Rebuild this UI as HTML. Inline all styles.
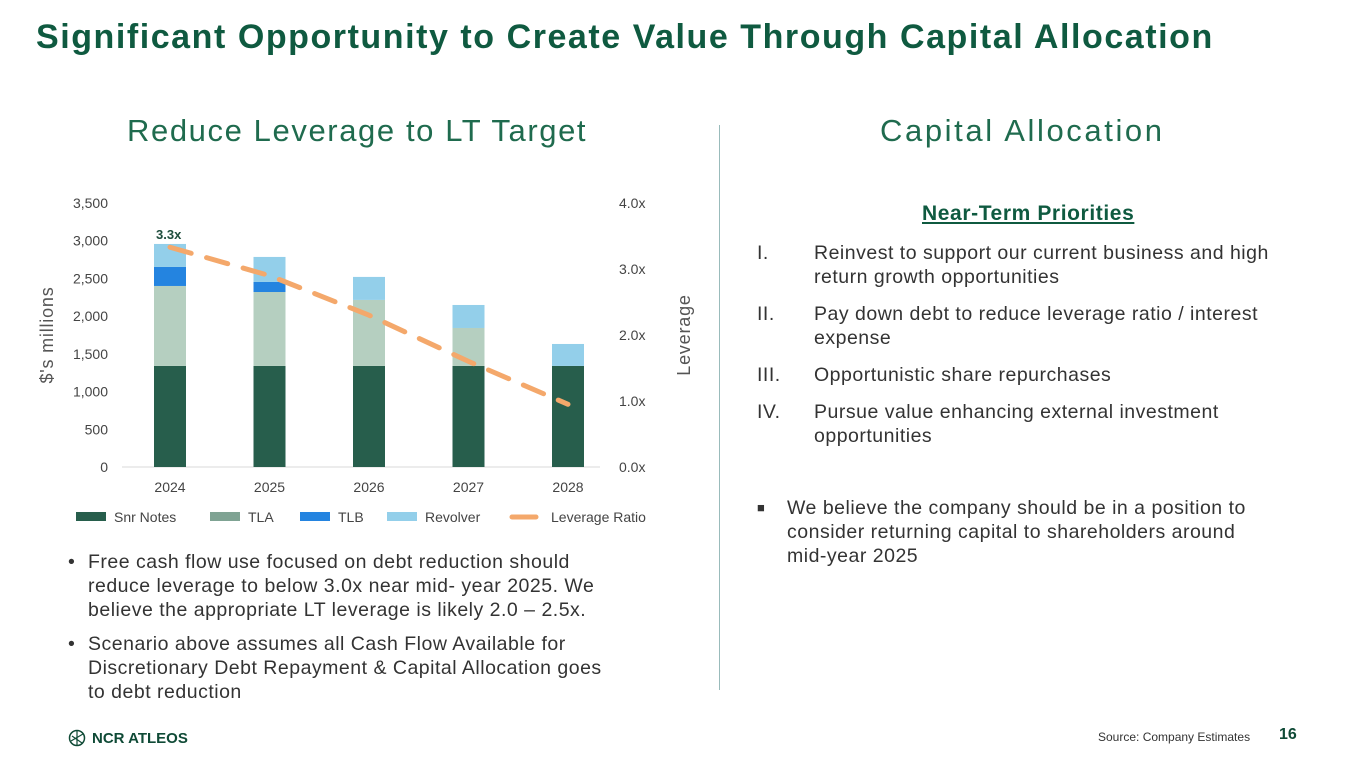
<!DOCTYPE html>
<html><head><meta charset="utf-8"><style>
body{margin:0;width:1365px;height:768px;background:#fff;font-family:"Liberation Sans",sans-serif;position:relative;overflow:hidden;color:#222}
.abs{position:absolute}
h1{position:absolute;left:36px;top:18px;margin:0;font-size:34px;font-weight:bold;color:#0f5a40;letter-spacing:1.55px}
.sub{font-size:31px;color:#1f6b4e;letter-spacing:1.6px}
.txt{font-size:19.5px;line-height:24px;color:#333;letter-spacing:0.5px}
.row{display:flex}.row span:first-child{flex-shrink:0}
</style></head><body>
<h1>Significant Opportunity to Create Value Through Capital Allocation</h1>
<div class="abs sub" style="left:127px;top:113px">Reduce Leverage to LT Target</div>
<div class="abs sub" style="left:880px;top:113px;letter-spacing:2.6px">Capital Allocation</div>
<div class="abs" style="left:719px;top:125px;width:1px;height:565px;background:#9bb"></div>
<svg class="abs" style="left:0;top:0" width="700" height="540" id="chart"></svg>
<div class="abs txt" style="left:68px;top:550px;width:600px">
<div class="row" style="width:555px"><span style="width:20px">•</span><span>Free cash flow use focused on debt reduction should reduce leverage to below 3.0x near mid- year 2025. We believe the appropriate LT leverage is likely 2.0 – 2.5x.</span></div>
<div class="row" style="margin-top:10px;width:540px"><span style="width:20px">•</span><span>Scenario above assumes all Cash Flow Available for Discretionary Debt Repayment &amp; Capital Allocation goes to debt reduction</span></div>
</div>
<div class="abs" style="left:922px;top:202px;font-size:21px;font-weight:bold;color:#0f5a40;text-decoration:underline;letter-spacing:0.6px">Near-Term Priorities</div>
<div class="abs txt" style="left:757px;top:241px;width:570px">
<div class="row"><span style="width:57px">I.</span><span>Reinvest to support our current business and high return growth opportunities</span></div>
<div class="row" style="margin-top:13px"><span style="width:57px">II.</span><span>Pay down debt to reduce leverage ratio / interest expense</span></div>
<div class="row" style="margin-top:13px"><span style="width:57px">III.</span><span>Opportunistic share repurchases</span></div>
<div class="row" style="margin-top:13px"><span style="width:57px">IV.</span><span>Pursue value enhancing external investment opportunities</span></div>
<div class="row" style="margin-top:48px;width:545px"><span style="width:30px;font-size:13px">■</span><span>We believe the company should be in a position to consider returning capital to shareholders around mid&#8209;year 2025</span></div>
</div>
<div class="abs" style="left:68px;top:729px;display:flex;align-items:center;gap:6px;font-weight:bold;font-size:15px;color:#0f4a36">
<svg width="18" height="18"><circle cx="9" cy="9" r="7.5" fill="none" stroke="#0f4a36" stroke-width="1.5"/><path d="M3 12 L15 5 M4 7 L14 14 M9 1.5 V16.5" stroke="#0f4a36" stroke-width="1.2"/></svg>NCR ATLEOS</div>
<div class="abs" style="left:1098px;top:730px;font-size:12px;color:#333">Source:  Company Estimates</div>
<div class="abs" style="left:1279px;top:726px;font-size:16px;font-weight:bold;color:#0f4a36">16</div>
<script>
const years=["2024","2025","2026","2027","2028"];
const snrNotes=[1340,1340,1340,1340,1340];
const tla=[1060,980,875,503,0];
const tlb=[252,133,0,0,0];
const revolver=[305,332,305,305,291];
const leverage=[3.33,2.9,2.3,1.6,0.95];
const yTicks=[0,500,1000,1500,2000,2500,3000,3500];
const y2Ticks=[0,1,2,3,4];
const svg=document.getElementById('chart');const NS='http://www.w3.org/2000/svg';
const y0=467,yTop=203,x0=120,step=99.5,bw=32;
const ys=v=>y0-(y0-yTop)*v/3500, ys2=v=>y0-(y0-yTop)*v/4, xc=i=>x0+50+i*step;
function el(t,a,txt){const e=document.createElementNS(NS,t);for(const k in a)e.setAttribute(k,a[k]);if(txt!==undefined)e.textContent=txt;svg.appendChild(e);return e;}
yTicks.forEach(t=>{const e=el('text',{x:108,y:ys(t)+5,'text-anchor':'end','font-size':14,fill:'#444'},t.toLocaleString('en-US'));

});
y2Ticks.forEach(t=>{const e=el('text',{x:619,y:ys2(t)+5,'font-size':14,fill:'#444'},t.toFixed(1)+'x');

});
const ax=el('line',{x1:122,x2:600,y1:y0,y2:y0,stroke:'#d9d9d9'});


const series=[[snrNotes,'#275e4c','snr-notes'],[tla,'#b5cfc0','tla'],[tlb,'#2484e0','tlb'],[revolver,'#93cfea','revolver']];
years.forEach((y,i)=>{let acc=0;series.forEach(([d,c,n])=>{if(d[i]>0){const r=el('rect',{x:xc(i)-bw/2,y:ys(acc+d[i]),width:bw,height:ys(acc)-ys(acc+d[i]),fill:c});

}acc+=d[i];});
const t=el('text',{x:xc(i),y:492,'text-anchor':'middle','font-size':14,fill:'#444'},y);

});
const pts=leverage.map((v,i)=>xc(i)+','+ys2(v)).join(' ');
const pl=el('polyline',{points:pts,fill:'none',stroke:'#f4a86b','stroke-width':5,'stroke-dasharray':'22 16','stroke-linecap':'round'});


const lb=el('text',{x:xc(0)-14,y:ys2(leverage[0])-8,'font-size':13,'font-weight':'bold',fill:'#1f4d3d'},leverage[0].toFixed(1)+'x');


const yt=el('text',{transform:'translate(53,335) rotate(-90)','text-anchor':'middle','font-size':18,fill:'#555','letter-spacing':'0.8'},"$'s millions");


const yt2=el('text',{transform:'translate(690,335) rotate(-90)','text-anchor':'middle','font-size':18,fill:'#555','letter-spacing':'0.8'},'Leverage');


const leg=[['Snr Notes','#275e4c',76],['TLA','#7fa393',210],['TLB','#2484e0',300],['Revolver','#93cfea',387]];
leg.forEach(([n,c,x])=>{const r=el('rect',{x:x,y:512,width:30,height:9,fill:c});


const t=el('text',{x:x+38,y:522,'font-size':14,fill:'#444'},n);

});
const ll=el('line',{x1:512,x2:536,y1:517,y2:517,stroke:'#f4a86b','stroke-width':5,'stroke-linecap':'round'});


const lt=el('text',{x:551,y:522,'font-size':14,fill:'#444'},'Leverage Ratio');


</script>
</body></html>
